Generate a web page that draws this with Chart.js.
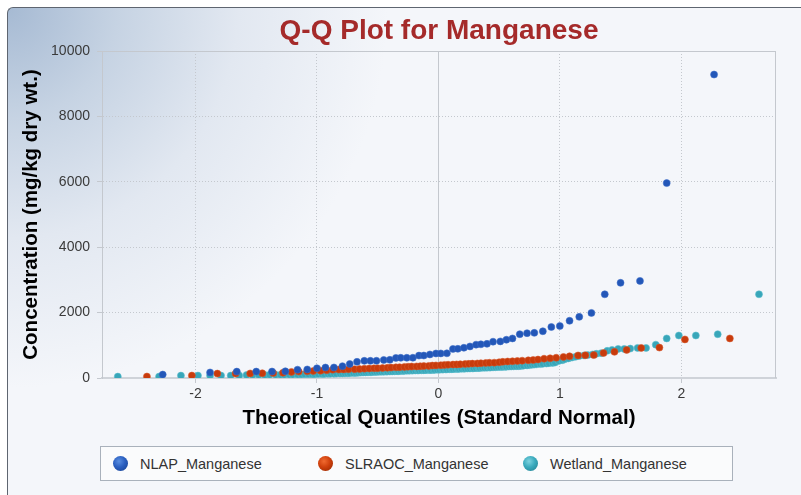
<!DOCTYPE html>
<html>
<head>
<meta charset="utf-8">
<script src="https://cdn.jsdelivr.net/npm/chart.js@4.4.1/dist/chart.umd.min.js"></script>
<style>
  html, body { margin: 0; padding: 0; background: #ffffff; }
  #wrap { position: relative; width: 801px; height: 495px; overflow: hidden; }
  #frame {
    position: absolute; left: 7px; top: 7px; width: 820px; height: 487px;
    border-left: 1px solid #5e6570; border-top: 1px solid #5e6570;
    border-top-left-radius: 6px;
    background:
      radial-gradient(circle at 0 0, #a6bad3 0px, #c6d3e3 110px, #e2e8f1 230px, rgba(244,246,250,0) 380px),
      #f4f6fa;
  }
  #c { position: absolute; left: 0; top: 0; }
  #legend {
    position: absolute; left: 100px; top: 446px; width: 619px; height: 33px;
    border: 1px solid #a9b1bb; background: #fafbfc;
    display: flex; align-items: center; padding-left: 12px;
    font: 14.5px "Liberation Sans", Arial, sans-serif; color: #333;
  }
  #legend .item { width: 205px; display: flex; align-items: center; white-space: nowrap; }
  #legend .dot { width: 15px; height: 15px; border-radius: 50%; margin-right: 12px; flex: none; }
</style>
</head>
<body>
<div id="wrap">
  <div id="frame"></div>
  <canvas id="c" width="801" height="495"></canvas>
  <div id="legend"></div>
</div>
<script>
// Chart text
const chartTitle = 'Q-Q Plot for Manganese';
const xAxisTitle = 'Theoretical Quantiles (Standard Normal)';
const yAxisTitle = 'Concentration (mg/kg dry wt.)';
const seriesNames = ['NLAP_Manganese', 'SLRAOC_Manganese', 'Wetland_Manganese'];

// Axis ticks
const xTicks = [-2, -1, 0, 1, 2];
const yTicks = [0, 2000, 4000, 6000, 8000, 10000];

// NLAP: theoretical quantile / concentration
const nlapQ = [-2.27,-1.88,-1.66,-1.50,-1.37,-1.26,-1.16,-1.08,-1.00,-0.93,-0.86,-0.79,-0.73,-0.67,-0.61,-0.56,-0.51,-0.45,-0.40,-0.35,-0.31,-0.26,-0.21,-0.16,-0.12,-0.07,-0.02,
               0.02,0.07,0.12,0.16,0.21,0.26,0.31,0.35,0.40,0.45,0.51,0.56,0.61,0.67,0.73,0.79,0.86,0.93,1.00,1.08,1.16,1.26,1.37,1.50,1.66,1.88,2.27];
const nlapConc = [105,170,195,196,198,205,255,262,297,320,322,362,428,495,525,525,527,551,555,615,617,618,620,685,687,720,750,
                  752,755,890,892,925,965,1020,1030,1045,1110,1120,1170,1210,1340,1370,1380,1430,1560,1590,1750,1870,1990,2560,2910,2970,5960,9280];

// SLRAOC: theoretical quantile / concentration
const slraocQ = [-2.40,-2.03,-1.82,-1.67,-1.55,-1.45,-1.36,-1.28,-1.21,-1.15,-1.08,-1.03,-0.97,-0.92,-0.87,-0.82,-0.78,-0.74,-0.69,-0.65,-0.61,-0.57,-0.53,-0.50,-0.46,-0.42,-0.39,-0.35,-0.32,-0.28,-0.25,-0.22,-0.18,-0.15,-0.12,-0.08,-0.05,-0.02,
                 0.02,0.05,0.08,0.12,0.15,0.18,0.22,0.25,0.28,0.32,0.35,0.39,0.42,0.46,0.50,0.53,0.57,0.61,0.65,0.69,0.74,0.78,0.82,0.87,0.92,0.97,1.03,1.08,1.15,1.21,1.28,1.36,1.45,1.55,1.67,1.82,2.03,2.40];
const slraocConc = [45,75,135,135,140,145,150,160,185,195,
                    205,214,225,240,255,258,262,266,270,275,
                    285,290,295,300,305,312,318,325,330,338,
                    345,350,355,360,365,370,380,385,392,400,
                    405,410,415,420,428,432,440,445,452,460,
                    465,470,480,495,505,512,520,530,540,550,
                    565,590,603,620,643,664,690,695,700,765,
                    800,860,920,930,1180,1210];

// Wetland: theoretical quantile / concentration
const wetlandQ = [-2.64,-2.30,-2.12,-1.98,-1.88,-1.79,-1.71,-1.64,-1.58,-1.53,-1.48,-1.43,-1.39,-1.34,-1.30,-1.27,-1.23,-1.20,-1.16,-1.13,
                  -1.10,-1.07,-1.04,-1.02,-0.99,-0.96,-0.94,-0.91,-0.89,-0.86,-0.84,-0.81,-0.79,-0.77,-0.75,-0.73,-0.70,-0.68,-0.66,-0.64,
                  -0.62,-0.60,-0.58,-0.56,-0.55,-0.53,-0.51,-0.49,-0.47,-0.45,-0.43,-0.42,-0.40,-0.38,-0.36,-0.34,-0.33,-0.31,-0.29,-0.28,
                  -0.26,-0.24,-0.22,-0.21,-0.19,-0.17,-0.16,-0.14,-0.12,-0.11,-0.09,-0.07,-0.06,-0.04,-0.03,-0.01,
                  0.01,0.03,0.04,0.06,0.07,0.09,0.11,0.12,0.14,0.16,0.17,0.19,0.21,0.22,0.24,0.26,
                  0.28,0.29,0.31,0.33,0.34,0.36,0.38,0.40,0.42,0.43,0.45,0.47,0.49,0.51,0.53,0.55,0.56,0.58,0.60,0.62,
                  0.64,0.66,0.68,0.70,0.73,0.75,0.77,0.79,0.81,0.84,0.86,0.89,0.91,0.94,0.96,0.99,1.02,1.04,1.07,1.10,
                  1.13,1.16,1.20,1.23,1.27,1.30,1.34,1.39,1.43,1.48,1.53,1.58,1.64,1.71,1.79,1.88,1.98,2.12,2.30,2.64];
const wetlandConc = [43,43,73,73,73,75,75,78,90,92,
                     95,95,98,100,100,102,104,105,108,110,
                     112,114,115,118,120,122,125,128,130,132,
                     135,138,140,142,145,148,150,155,160,165,
                     170,172,175,178,180,182,185,188,190,192,
                     195,198,200,202,205,208,210,213,216,220,
                     222,224,226,228,230,232,234,236,238,240,
                     242,244,246,248,250,252,255,258,260,263,
                     265,268,270,272,275,277,280,282,285,288,
                     290,292,295,298,300,305,308,310,313,316,
                     320,323,326,330,333,336,340,343,346,350,
                     353,356,360,363,370,378,386,394,402,410,
                     418,426,434,442,452,462,472,520,545,570,
                     600,625,650,675,690,700,720,740,760,830,
                     860,890,890,900,920,920,1020,1210,1300,1300,
                     1340,2560];

const seriesColors = ['#2357b8', '#c83b0c', '#38a6b9'];
const seriesEdges = ['rgba(60,110,200,0.55)', 'rgba(215,90,45,0.55)', 'rgba(90,190,205,0.55)'];
const legendDots = [
  'radial-gradient(circle at 40% 35%, #5a8ee0 0%, #2a5fc0 45%, #163f8c 100%)',
  'radial-gradient(circle at 40% 35%, #f06a30 0%, #cf400c 45%, #8f2600 100%)',
  'radial-gradient(circle at 40% 35%, #7fd3df 0%, #3aaabd 45%, #217c8c 100%)'
];

const FONT = '"Liberation Sans", Arial, sans-serif';

function pairs(qs, vs) { return qs.map((q, i) => ({ x: q, y: vs[i] })); }

const seriesData = [pairs(nlapQ, nlapConc), pairs(slraocQ, slraocConc), pairs(wetlandQ, wetlandConc)];

// Title centred over the plotting area, plus the top/right edges of the plot frame
const framePlugin = {
  id: 'plotFrame',
  beforeDatasetsDraw(chart) {
    const { ctx, chartArea: a } = chart;
    ctx.save();
    ctx.strokeStyle = '#c4c8ce';
    ctx.lineWidth = 1;
    ctx.beginPath();
    ctx.moveTo(a.left, a.top + 0.5);
    ctx.lineTo(a.right - 0.5, a.top + 0.5);
    ctx.lineTo(a.right - 0.5, a.bottom);
    ctx.stroke();
    ctx.restore();
  },
  afterDraw(chart) {
    const { ctx, chartArea: a } = chart;
    ctx.save();
    ctx.font = 'bold 28px ' + FONT;
    ctx.fillStyle = '#a52a2a';
    ctx.textAlign = 'center';
    ctx.textBaseline = 'middle';
    ctx.fillText(chartTitle, (a.left + a.right) / 2, 31);
    ctx.restore();
  }
};

const dottedUnless = (keep) => (ctx) => (ctx.tick && !keep.includes(ctx.tick.value)) ? [1, 2] : [];

new Chart(document.getElementById('c'), {
  type: 'scatter',
  data: {
    datasets: seriesNames.map((name, i) => ({
      label: name,
      data: seriesData[i],
      backgroundColor: seriesColors[i],
      borderColor: seriesEdges[i],
      borderWidth: 1,
      pointRadius: 3.5,
      pointHoverRadius: 3.5
    }))
  },
  options: {
    responsive: false,
    animation: false,
    events: [],
    layout: { padding: { left: 0, right: 25, top: 51, bottom: 0 } },
    plugins: {
      legend: { display: false },
      title: { display: false },
      tooltip: { enabled: false }
    },
    scales: {
      x: {
        type: 'linear',
        min: -2.77,
        max: 2.78,
        afterBuildTicks: (s) => { s.ticks = xTicks.map(v => ({ value: v })); },
        ticks: {
          padding: 3,
          color: '#3a3a3a',
          font: { family: FONT, size: 14 },
          callback: (v) => String(v)
        },
        grid: { color: '#c4c8ce', lineWidth: 1, drawTicks: true, tickLength: 5, tickColor: '#c4c8ce' },
        border: { display: true, color: '#cfd3d9', width: 2, dash: dottedUnless([0]) },
        title: {
          display: true, text: xAxisTitle, color: '#000',
          font: { family: FONT, size: 20.5, weight: 'bold' },
          padding: { top: 0, bottom: 64 }
        },
        afterFit: (s) => { s.height = 117; }
      },
      y: {
        type: 'linear',
        min: 0,
        max: 10000,
        afterBuildTicks: (s) => { s.ticks = yTicks.map(v => ({ value: v })); },
        ticks: {
          padding: 7,
          color: '#3a3a3a',
          font: { family: FONT, size: 14 },
          callback: (v) => String(v)
        },
        grid: { color: '#c4c8ce', lineWidth: 1, drawTicks: true, tickLength: 5, tickColor: '#c4c8ce' },
        border: { display: true, color: '#c4c8ce', width: 1, dash: dottedUnless([0, 10000]) },
        title: {
          display: true, text: yAxisTitle, color: '#000',
          font: { family: FONT, size: 20.5, weight: 'bold' },
          padding: { top: 19, bottom: 0 }
        },
        afterFit: (s) => { s.width = 102; }
      }
    }
  },
  plugins: [framePlugin]
});

// Legend row
const legend = document.getElementById('legend');
seriesNames.forEach((name, i) => {
  const item = document.createElement('span');
  item.className = 'item';
  const dot = document.createElement('i');
  dot.className = 'dot';
  dot.style.background = legendDots[i];
  item.appendChild(dot);
  item.appendChild(document.createTextNode(name));
  legend.appendChild(item);
});
</script>
</body>
</html>
